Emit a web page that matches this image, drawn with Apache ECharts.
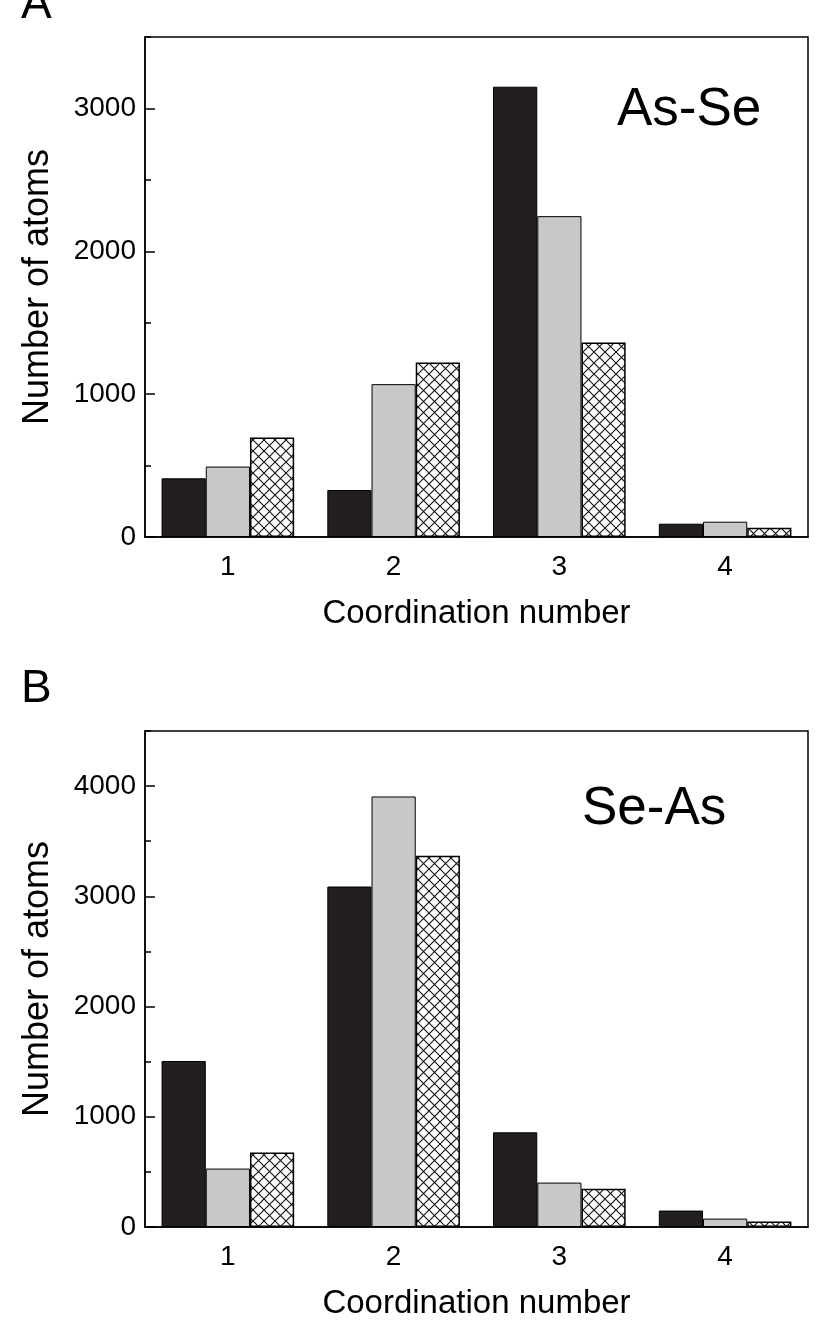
<!DOCTYPE html>
<html>
<head>
<meta charset="utf-8">
<script src="https://cdn.jsdelivr.net/npm/echarts@6/dist/echarts.min.js"></script>
<style>
body { margin: 0; background: #fff; }
#chart { width: 831px; height: 1323px; }
</style>
</head>
<body>
<div id="chart"></div>
<script>
// coordination numbers
const categories = ['1', '2', '3', '4'];
// panel A, As-Se
const asSeBlack = [411, 329, 3152, 93];
const asSeGray = [493, 1070, 2246, 107];
const asSeHatch = [696, 1221, 1361, 64];
// panel B, Se-As
const seAsBlack = [1506, 3089, 859, 149];
const seAsGray = [530, 3906, 403, 76];
const seAsHatch = [675, 3368, 348, 49];

const font = 'Liberation Sans, Arial, sans-serif';

// cross hatch tile for the third series
function hatchTile () {
  let s = 11;
  let c = document.createElement('canvas');
  c.width = s;
  c.height = s;
  let g = c.getContext('2d');
  g.fillStyle = '#fff';
  g.fillRect(0, 0, s, s);
  g.strokeStyle = '#111';
  g.lineWidth = 1.1;
  g.beginPath();
  g.moveTo(0, 0); g.lineTo(s, s);
  g.moveTo(s, 0); g.lineTo(0, s);
  g.stroke();
  return c;
}
const hatchFill = { image: hatchTile(), repeat: 'repeat' };

let grids = [], xAxes = [], yAxes = [], series = [];

function addPanel (i, top, height, max, black, gray, hatch) {
  grids.push({
    left: 145, width: 663, top: top, height: height,
    show: true, borderColor: '#000', borderWidth: 1.5
  });
  let xi = xAxes.length, yi = yAxes.length;
  // main x axis: labels + short ticks between categories (outside part)
  xAxes.push({
    type: 'category', gridIndex: i, data: categories, boundaryGap: true,
    axisLine: { lineStyle: { color: '#000', width: 1.5 } },
    axisTick: { length: 5, lineStyle: { color: '#000', width: 1.5 } },
    axisLabel: { margin: 16, fontSize: 28, color: '#000', fontFamily: font },
    name: 'Coordination number', nameLocation: 'middle', nameGap: 60,
    nameTextStyle: { fontSize: 33, color: '#000', fontFamily: font }
  });
  // inside part of short ticks
  xAxes.push({
    type: 'category', gridIndex: i, data: categories, boundaryGap: true,
    axisLine: { show: false },
    axisTick: { inside: true, length: 5, lineStyle: { color: '#000', width: 1.5 } },
    axisLabel: { show: false }
  });
  // long ticks at the categories, outside and inside
  xAxes.push({
    type: 'category', gridIndex: i, data: categories, boundaryGap: true,
    axisLine: { show: false },
    axisTick: { alignWithLabel: true, length: 10, lineStyle: { color: '#000', width: 2 } },
    axisLabel: { show: false }
  });
  xAxes.push({
    type: 'category', gridIndex: i, data: categories, boundaryGap: true,
    axisLine: { show: false },
    axisTick: { alignWithLabel: true, inside: true, length: 10, lineStyle: { color: '#000', width: 2 } },
    axisLabel: { show: false }
  });
  yAxes.push({
    type: 'value', gridIndex: i, min: 0, max: max, interval: 1000,
    axisLine: { show: true, lineStyle: { color: '#000', width: 1.5 } },
    axisTick: { show: true, inside: true, length: 10, lineStyle: { color: '#000', width: 1.5 } },
    axisLabel: {
      margin: 9, fontSize: 28, color: '#000', fontFamily: font, showMaxLabel: false,
      formatter: v => String(v)
    },
    splitLine: { show: false },
    name: 'Number of atoms', nameLocation: 'middle', nameGap: 89,
    nameTextStyle: { fontSize: 36, color: '#000', fontFamily: font }
  });
  // minor ticks every 500
  yAxes.push({
    type: 'value', gridIndex: i, min: 0, max: max, interval: 500, position: 'left',
    axisLine: { show: false },
    axisTick: { show: true, inside: true, length: 6, lineStyle: { color: '#000', width: 1.5 } },
    axisLabel: { show: false },
    splitLine: { show: false }
  });
  let common = {
    type: 'bar', xAxisIndex: xi, yAxisIndex: yi,
    barGap: '0%', barCategoryGap: '20%'
  };
  series.push(Object.assign({}, common, {
    data: black,
    itemStyle: { color: '#231f20', borderColor: '#000', borderWidth: 1 }
  }));
  series.push(Object.assign({}, common, {
    data: gray,
    itemStyle: { color: '#c8c8c8', borderColor: '#000', borderWidth: 1 }
  }));
  series.push(Object.assign({}, common, {
    data: hatch,
    itemStyle: { color: hatchFill, borderColor: '#000', borderWidth: 1.5 }
  }));
}

addPanel(0, 37, 500, 3500, asSeBlack, asSeGray, asSeHatch);
addPanel(1, 731, 496, 4500, seAsBlack, seAsGray, seAsHatch);

let myChart = echarts.init(document.getElementById('chart'));
let option = {
  animation: false,
  backgroundColor: '#fff',
  title: [
    { text: 'A', left: 21, top: -18, padding: 0, textStyle: { fontSize: 46, fontWeight: 'normal', color: '#000', fontFamily: font } },
    { text: 'B', left: 21, top: 666, padding: 0, textStyle: { fontSize: 46, fontWeight: 'normal', color: '#000', fontFamily: font } },
    { text: 'As-Se', left: 617, top: 84, padding: 0, textStyle: { fontSize: 53, fontWeight: 'normal', color: '#000', fontFamily: font } },
    { text: 'Se-As', left: 582, top: 783, padding: 0, textStyle: { fontSize: 53, fontWeight: 'normal', color: '#000', fontFamily: font } }
  ],
  grid: grids,
  xAxis: xAxes,
  yAxis: yAxes,
  series: series
};
myChart.setOption(option);
</script>
</body>
</html>
